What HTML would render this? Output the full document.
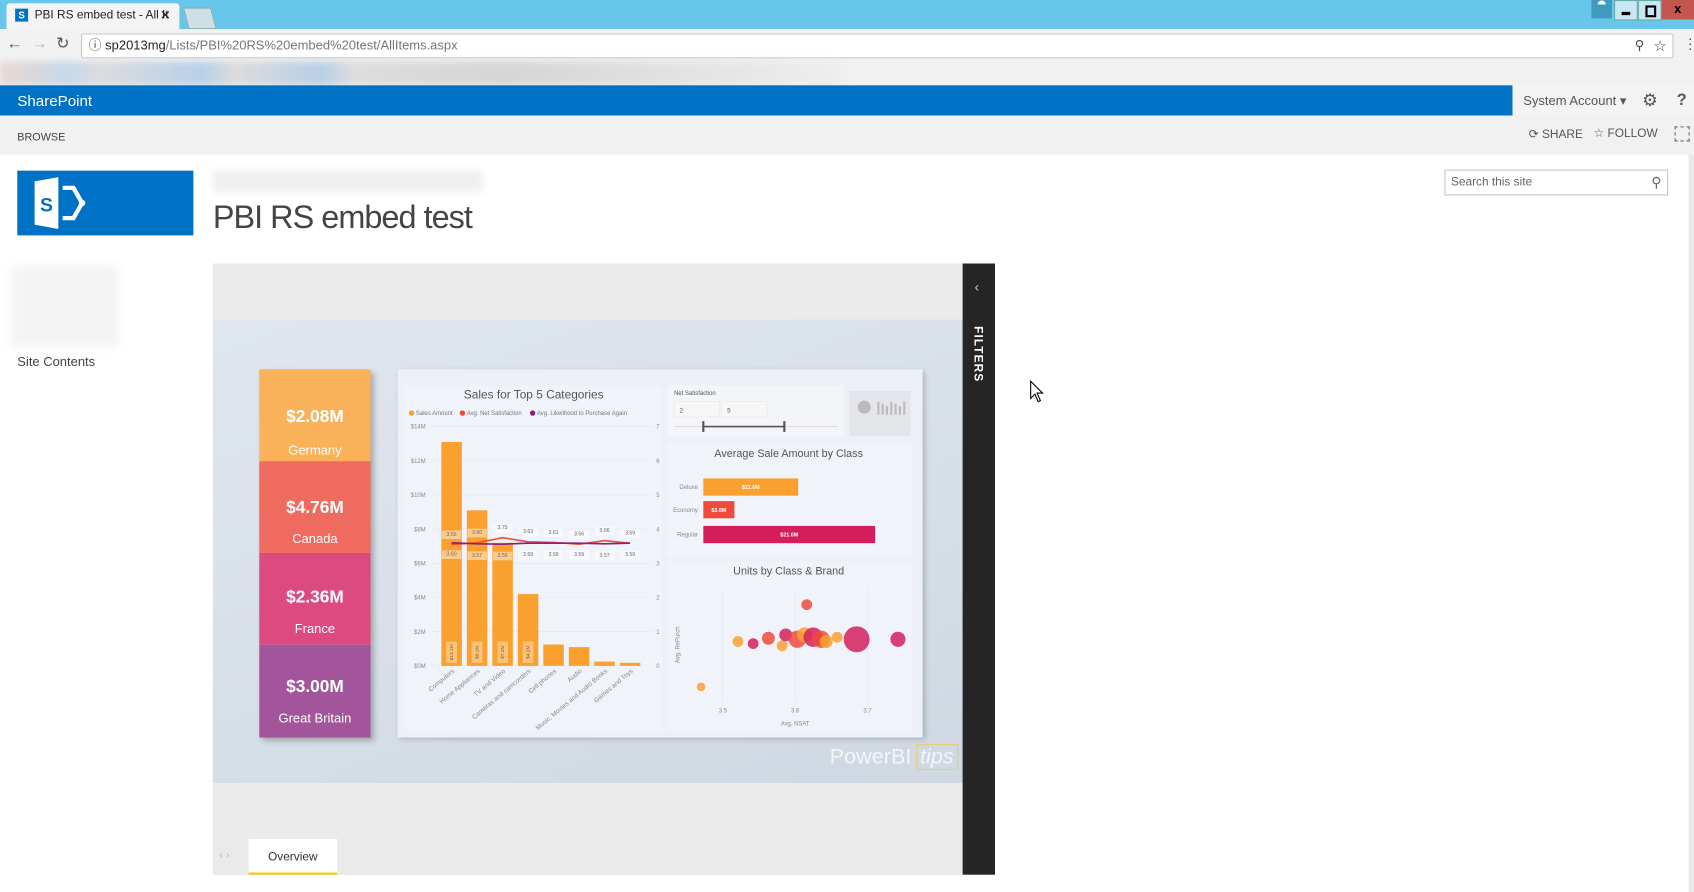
<!DOCTYPE html>
<html><head><meta charset="utf-8">
<style>
html,body{margin:0;padding:0;width:1694px;height:892px;overflow:hidden;background:#fff;font-family:"Liberation Sans",sans-serif}
#wrap{position:absolute;left:0;top:0;width:1568px;height:826px;transform-origin:0 0;transform:scale(1.08036,1.0799)}
.a{position:absolute}
</style></head><body>
<div id="wrap">
  <div class="a" style="left:0;top:0;width:1568px;height:27px;background:#68c6ea"></div>
  <div class="a" style="left:6px;top:3px;width:160px;height:24px;background:#f4f4f4;border-radius:3px 3px 0 0;font-size:11px;color:#222;line-height:22px">
    <span class="a" style="left:8px;top:5px;width:12px;height:12px;background:#0072c6;color:#fff;font-size:9px;line-height:12px;text-align:center;font-weight:bold">S</span>
    <span class="a" style="left:26px;top:0">PBI RS embed test - All It</span>
    <span class="a" style="left:142px;top:0;font-size:12px">✕</span>
  </div>
  <div class="a" style="left:172px;top:7px;width:24px;height:18px;background:#cfdfe8;border:1px solid #8aa;transform:skewX(15deg)"></div>
  <div class="a" style="left:1473px;top:0;width:19px;height:17px;background:#3f9bbd;color:#fff;font-size:10px;text-align:center">⯊</div>
  <div class="a" style="left:1494px;top:0;width:20px;height:17px;background:#c9e8f3;border:1px solid #6aa"><div class="a" style="left:6px;top:10px;width:8px;height:3px;background:#000"></div></div>
  <div class="a" style="left:1516px;top:0;width:20px;height:17px;background:#c9e8f3;border:1px solid #6aa"><div class="a" style="left:6px;top:4px;width:6px;height:7px;border:2px solid #000"></div></div>
  <div class="a" style="left:1538px;top:0;width:30px;height:18px;background:#c4574d;color:#000;font-weight:bold;font-size:12px;text-align:center;line-height:17px">x</div>

  <div class="a" style="left:0;top:27px;width:1568px;height:28px;background:#f2f2f2"></div>
  <div class="a" style="left:6px;top:32px;font-size:15px;color:#555">←</div>
  <div class="a" style="left:29px;top:32px;font-size:15px;color:#bbb">→</div>
  <div class="a" style="left:52px;top:31px;font-size:15px;color:#555">↻</div>
  <div class="a" style="left:75px;top:31px;width:1472px;height:21px;background:#fff;border:1px solid #c8c8c8;border-radius:2px;font-size:12px;line-height:21px;color:#777">
    <span style="margin-left:6px;color:#444">ⓘ</span> <span style="color:#222">sp2013mg</span>/Lists/PBI%20RS%20embed%20test/AllItems.aspx
    <span class="a" style="right:26px;top:0;color:#444">⚲</span><span class="a" style="right:5px;top:0;color:#444;font-size:14px">☆</span>
  </div>
  <div class="a" style="left:1558px;top:33px;font-size:13px;color:#444">⋮</div>
  <div class="a" style="left:0;top:55px;width:1568px;height:24px;background:#f1f1f1">
    <div class="a" style="left:0;top:2px;width:780px;height:22px;background:linear-gradient(90deg,#e9d9d0,#c6d8ea 8%,#dcdcdc 12%,#b6d0ea 24%,#dcdcdc 28%,#b7cfe6 38%,#dddddd 42%,#d5d5d5 60%,#e2e2e2 80%,#eeeeee);filter:blur(3px)"></div>
  </div>

  <div class="a" style="left:0;top:79px;width:1400px;height:28px;background:#0072c6">
    <span class="a" style="left:16px;top:6px;color:#fff;font-size:14px">SharePoint</span>
  </div>
  <div class="a" style="left:1400px;top:79px;width:168px;height:28px;background:#f3f3f3">
    <span class="a" style="left:10px;top:7px;font-size:12px;color:#555">System Account ▾</span>
    <span class="a" style="left:120px;top:4px;font-size:16px;color:#555">⚙</span>
    <span class="a" style="left:152px;top:5px;font-size:15px;color:#555;font-weight:bold">?</span>
  </div>
  <div class="a" style="left:0;top:107px;width:1568px;height:36px;background:#f1f1f1">
    <span class="a" style="left:16px;top:15px;font-size:10px;color:#444">BROWSE</span>
    <span class="a" style="left:1415px;top:11px;font-size:11px;color:#555">⟳ SHARE</span>
    <span class="a" style="left:1475px;top:10px;font-size:11px;color:#555">☆ FOLLOW</span>
    <span class="a" style="left:1550px;top:10px;width:12px;height:12px;border:1px dashed #666"></span>
  </div>

  <div class="a" style="left:16px;top:158px;width:163px;height:60px;background:#0072c6">
    <svg width="163" height="60"><polygon points="16,10 38,6 38,54 16,50" fill="#fff"/><text x="21" y="38" font-size="18" font-weight="bold" fill="#0072c6" font-family="Liberation Sans">S</text><path d="M42,16 L52,16 L60,30 L52,44 L42,44" stroke="#fff" stroke-width="4" fill="none"/><circle cx="60" cy="30" r="3" fill="#fff"/></svg>
  </div>
  <div class="a" style="left:197px;top:158px;width:250px;height:20px;background:#f0f0f0;filter:blur(3px)"></div>
  <div class="a" style="left:197px;top:185px;font-size:30px;color:#444;font-weight:300;letter-spacing:-0.9px">PBI RS embed test</div>
  <div class="a" style="left:1337px;top:157px;width:205px;height:22px;border:1px solid #c6c6c6;font-size:11px;color:#666;line-height:22px"><span style="margin-left:5px">Search this site</span><span class="a" style="right:5px;top:0;font-size:13px">⚲</span></div>
  <div class="a" style="left:10px;top:246px;width:100px;height:75px;background:#f4f4f4;filter:blur(4px)"></div>
  <div class="a" style="left:16px;top:328px;font-size:12px;color:#444">Site Contents</div>
  <div class="a" style="left:1563px;top:143px;width:5px;height:683px;background:#e8e8e8"></div>

  <div class="a" style="left:197px;top:244px;width:694px;height:566px;background:#ebebeb"></div>
  <div class="a" style="left:197px;top:296px;width:694px;height:429px;background:linear-gradient(160deg,#dfe6ee,#d6dee7 60%,#cfd8e2)"></div>
  <div class="a" style="left:197px;top:777px;width:694px;height:33px;background:#eaeaea">
    <span class="a" style="left:6px;top:10px;font-size:10px;color:#bbb">‹ ›</span>
    <div class="a" style="left:33px;top:0;width:82px;height:31px;background:#fff;border-bottom:2px solid #f2c811;font-size:11px;color:#333;text-align:center;line-height:34px">Overview</div>
  </div>
  <div class="a" style="left:891px;top:244px;width:30px;height:566px;background:#252525">
    <span class="a" style="left:11px;top:14px;color:#ccc;font-size:13px">‹</span>
    <span class="a" style="left:8px;top:58px;color:#fff;font-size:11px;font-weight:bold;writing-mode:vertical-rl;letter-spacing:1px">FILTERS</span>
  </div>

  <div class="a" style="left:240px;top:342px;width:103px;height:341px;box-shadow:3px 3px 5px rgba(0,0,0,.25)">
    <div class="a" style="left:0;top:0;width:103px;height:85px;background:#f9b25a;color:#fff;text-align:center"><div style="margin-top:36px;font-size:16px;font-weight:bold">$2.08M</div><div style="margin-top:14px;font-size:12px">Germany</div></div>
    <div class="a" style="left:0;top:85px;width:103px;height:85px;background:#f06b5f;color:#fff;text-align:center"><div style="margin-top:35px;font-size:16px;font-weight:bold">$4.76M</div><div style="margin-top:12px;font-size:12px">Canada</div></div>
    <div class="a" style="left:0;top:170px;width:103px;height:85px;background:#dd4a80;color:#fff;text-align:center"><div style="margin-top:33px;font-size:16px;font-weight:bold">$2.36M</div><div style="margin-top:12px;font-size:12px">France</div></div>
    <div class="a" style="left:0;top:255px;width:103px;height:86px;background:#a2559a;color:#fff;text-align:center"><div style="margin-top:31px;font-size:16px;font-weight:bold">$3.00M</div><div style="margin-top:12px;font-size:12px">Great Britain</div></div>
  </div>
  <div class="a" style="left:368px;top:342px;width:486px;height:341px;background:#edf1f7;box-shadow:2px 2px 5px rgba(0,0,0,.2)"></div>
  <div class="a" style="left:768px;top:690px;font-size:20px;color:rgba(255,255,255,.75)">PowerBI<span style="font-style:italic;border:1px solid rgba(242,200,17,.5);padding:0 3px;margin-left:4px">tips</span></div>

  <svg id="charts" class="a" style="left:0;top:0" width="1568" height="826"></svg>

  <svg class="a" style="left:953px;top:352px" width="14" height="22"><path d="M1,1 L1,17 L5,13 L8,20 L10,19 L7,12 L12,12 Z" fill="#fff" stroke="#000"/></svg>
</div>
<script>
const NS='http://www.w3.org/2000/svg';
const svg=document.getElementById('charts');
function mk(tag,attrs,parent,text){const e=document.createElementNS(NS,tag);for(const k in attrs)e.setAttribute(k,attrs[k]);if(text!==undefined)e.textContent=text;(parent||svg).appendChild(e);return e;}

const categories=['Computers','Home Appliances','TV and Video','Cameras and camcorders','Cell phones','Audio','Music, Movies and Audio Books','Games and Toys'];
const salesM=[13.1,9.1,7.2,4.2,1.25,1.1,0.25,0.18];
const barLabels=['$13.1M','$9.1M','$7.2M','$4.2M'];
const netSat=[3.55,3.60,3.75,3.63,3.61,3.56,3.66,3.59];
const likelihood=[3.60,3.57,3.56,3.59,3.59,3.59,3.57,3.59];
const leftTicks=['$0M','$2M','$4M','$6M','$8M','$10M','$12M','$14M'];
const leftTickVals=[0,2,4,6,8,10,12,14];
const rightTicks=[0,1,2,3,4,5,6,7];

const classes=['Deluxe','Economy','Regular'];
const classSales=[11.6,3.8,21.0];
const classLabels=['$11.6M','$3.8M','$21.0M'];

const sX=[3.521,3.542,3.563,3.582,3.587,3.603,3.613,3.625,3.636,3.643,3.658,3.685,3.742,3.616,3.470];
const sY=[3.204,3.19,3.226,3.175,3.248,3.219,3.248,3.233,3.219,3.204,3.233,3.219,3.219,3.451,2.90];
const sUnits=[5,5,6,5,6,8,7,9,8,6,5,12,7,5,4];
const sClass=[0,2,1,0,2,1,0,2,1,0,0,2,2,1,0];
const xTicks=[3.5,3.6,3.7];

const p1=mk('rect',{x:375,y:357,width:238,height:320,fill:'#f0f4fa'});

const p2=mk('rect',{x:618,y:357,width:163,height:47,fill:'#f3f5f8'});

const p3=mk('rect',{x:786,y:362,width:57,height:42,fill:'#e4e6e9'});

const p4=mk('rect',{x:618,y:411,width:225,height:104,fill:'#f0f4fa'});

const p5=mk('rect',{x:618,y:520,width:225,height:157,fill:'#f0f4fa'});


const F='Liberation Sans';
const yB=v=>616.6-(v/14)*221.6;
const yR=v=>616.6-(v/7)*221.6;
const xB=i=>418+i*23.6;
let t=mk('text',{x:494,y:369,'font-size':11,fill:'#555','text-anchor':'middle','font-family':F},svg,'Sales for Top 5 Categories');

const legendItems=[['Sales Amount','#f9a02f',381],['Avg. Net Satisfaction','#ef4b3c',428],['Avg. Likelihood to Purchase Again','#8a1f7c',493]];
legendItems.forEach(l=>{const g=mk('g',{});mk('circle',{cx:l[2],cy:382.5,r:2.5,fill:l[1]},g);mk('text',{x:l[2]+4,y:384.5,'font-size':5.5,fill:'#777','font-family':F},g,l[0]);});
leftTickVals.forEach((v,i)=>{const tx=mk('text',{x:394,y:yB(v)+2,'font-size':5.5,fill:'#888','text-anchor':'end','font-family':F},svg,leftTicks[i]);mk('line',{x1:400,x2:604,y1:yB(v),y2:yB(v),stroke:'#e3e7ee','stroke-width':0.5});});
rightTicks.forEach(v=>{const tx=mk('text',{x:609,y:yR(v)+2,'font-size':5.5,fill:'#888','text-anchor':'middle','font-family':F},svg,String(v));});
salesM.forEach((v,i)=>{const r=mk('rect',{x:xB(i)-9.5,y:yB(v),width:19,height:616.6-yB(v),fill:'#f9a02f'});});
barLabels.forEach((l,i)=>{mk('rect',{x:xB(i)-5,y:594,width:10,height:20,fill:'#fbc27a',rx:1.5});const tx=mk('text',{x:0,y:0,'font-size':4.5,fill:'#8a5a20','text-anchor':'middle','font-family':F,transform:`translate(${xB(i)+1.5},604) rotate(-90)`},svg,l);});
categories.forEach((c,i)=>{const tx=mk('text',{x:0,y:0,'font-size':6,fill:'#888','text-anchor':'end','font-family':F,transform:`translate(${xB(i)+3},622) rotate(-40)`},svg,c);});
function line(vals,color,name,dy){const pts=vals.map((v,i)=>xB(i)+','+yR(v)).join(' ');const pl=mk('polyline',{points:pts,fill:'none',stroke:color,'stroke-width':1.5});vals.forEach((v,i)=>{mk('rect',{x:xB(i)-9,y:yR(v)+dy-5,width:18,height:8,fill:'rgba(255,255,255,.45)'});mk('text',{x:xB(i),y:yR(v)+dy,'font-size':4.8,fill:'#666','text-anchor':'middle','font-family':F},svg,v.toFixed(2));});}
line(netSat,'#ef4b3c','net-satisfaction-line',-8);
line(likelihood,'#8a1f7c','likelihood-line',12);

mk('text',{x:624,y:366,'font-size':5.5,fill:'#555','font-family':F},svg,'Net Satisfaction');
mk('rect',{x:624,y:372,width:42,height:14,fill:'#f7f7f7',stroke:'#e6e6e6','stroke-width':0.5});
mk('rect',{x:668,y:372,width:42,height:14,fill:'#f7f7f7',stroke:'#e6e6e6','stroke-width':0.5});
mk('text',{x:629,y:382,'font-size':6,fill:'#555','font-family':F},svg,'2');
mk('text',{x:673,y:382,'font-size':6,fill:'#555','font-family':F},svg,'5');
mk('line',{x1:624,x2:776,y1:395,y2:395,stroke:'#ddd','stroke-width':1});
mk('line',{x1:651,x2:726,y1:395,y2:395,stroke:'#555','stroke-width':1.5});
mk('line',{x1:651,x2:651,y1:390,y2:400,stroke:'#555','stroke-width':2});
mk('line',{x1:726,x2:726,y1:390,y2:400,stroke:'#555','stroke-width':2});
mk('circle',{cx:800,cy:377,r:6,fill:'#bbb'});
for(let k=0;k<7;k++)mk('rect',{x:812+k*4,y:372+(k%3)*2,width:2,height:12-(k%3)*2,fill:'#bbb'});

t=mk('text',{x:730,y:423,'font-size':10,fill:'#555','text-anchor':'middle','font-family':F},svg,'Average Sale Amount by Class');

const hx=v=>651+(v/21)*159;
const classColors=['#f9a02f','#ef4b3c','#d51f5c'];
const rowY=[443,464,487];
classes.forEach((c,i)=>{mk('text',{x:646,y:rowY[i]+10,'font-size':5.5,fill:'#888','text-anchor':'end','font-family':F},svg,c);const r=mk('rect',{x:651,y:rowY[i],width:hx(classSales[i])-651,height:16,fill:classColors[i]});mk('text',{x:(651+hx(classSales[i]))/2,y:rowY[i]+10,'font-size':5,fill:'#fff','font-weight':'bold','text-anchor':'middle','font-family':F},svg,classLabels[i]);});

t=mk('text',{x:730,y:532,'font-size':10,fill:'#555','text-anchor':'middle','font-family':F},svg,'Units by Class & Brand');

const sx=v=>669+(v-3.5)*670;
const sy=v=>636-(v-2.9)*138;
xTicks.forEach(v=>{mk('line',{x1:sx(v),x2:sx(v),y1:545,y2:650,stroke:'#e3e7ee','stroke-width':0.6});const tx=mk('text',{x:sx(v),y:660,'font-size':5.5,fill:'#888','text-anchor':'middle','font-family':F},svg,v.toFixed(1));});
mk('text',{x:736,y:672,'font-size':5.5,fill:'#888','text-anchor':'middle','font-family':F},svg,'Avg. NSAT');
mk('text',{x:0,y:0,'font-size':5.5,fill:'#888','text-anchor':'middle','font-family':F,transform:'translate(629,597) rotate(-90)'},svg,'Avg. RePurch');
sX.forEach((v,i)=>{const c=mk('circle',{cx:sx(v),cy:sy(sY[i]),r:sUnits[i],fill:classColors[sClass[i]],'fill-opacity':0.85});});
</script>
</body></html>
